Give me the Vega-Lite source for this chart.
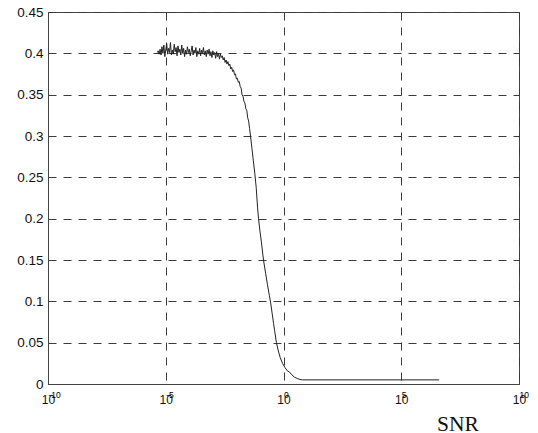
{
  "$schema": "https://vega.github.io/schema/vega-lite/v6.json",
  "width": 471,
  "height": 372,
  "autosize": "none",
  "padding": {"left": 48, "top": 12, "right": 19, "bottom": 49},
  "background": "white",
  "config": {
    "view": {"stroke": "#444", "strokeWidth": 1},
    "font": "Liberation Sans",
    "axis": {
      "labelFont": "Liberation Sans",
      "labelColor": "#111",
      "labelOverlap": false,
      "labelFlush": false,
      "domainColor": "#444",
      "gridColor": "#3a3a3a",
      "gridOpacity": 1,
      "gridDash": [8, 7],
      "gridWidth": 1,
      "ticks": false,
      "tickSize": 0
    }
  },
  "data": {
    "values": [
      {"snr": 4.365e-6, "p": 0.401},
      {"snr": 4.786e-6, "p": 0.403},
      {"snr": 5.248e-6, "p": 0.399},
      {"snr": 5.754e-6, "p": 0.405},
      {"snr": 6.310e-6, "p": 0.398},
      {"snr": 6.918e-6, "p": 0.408},
      {"snr": 7.586e-6, "p": 0.400},
      {"snr": 8.318e-6, "p": 0.410},
      {"snr": 9.120e-6, "p": 0.396},
      {"snr": 1.000e-5, "p": 0.404},
      {"snr": 1.096e-5, "p": 0.412},
      {"snr": 1.202e-5, "p": 0.399},
      {"snr": 1.318e-5, "p": 0.406},
      {"snr": 1.445e-5, "p": 0.401},
      {"snr": 1.585e-5, "p": 0.413},
      {"snr": 1.738e-5, "p": 0.398},
      {"snr": 1.905e-5, "p": 0.404},
      {"snr": 2.089e-5, "p": 0.399},
      {"snr": 2.291e-5, "p": 0.411},
      {"snr": 2.512e-5, "p": 0.402},
      {"snr": 2.754e-5, "p": 0.407},
      {"snr": 3.020e-5, "p": 0.397},
      {"snr": 3.311e-5, "p": 0.409},
      {"snr": 3.631e-5, "p": 0.401},
      {"snr": 3.981e-5, "p": 0.405},
      {"snr": 4.365e-5, "p": 0.398},
      {"snr": 4.786e-5, "p": 0.410},
      {"snr": 5.248e-5, "p": 0.400},
      {"snr": 5.754e-5, "p": 0.406},
      {"snr": 6.310e-5, "p": 0.396},
      {"snr": 6.918e-5, "p": 0.404},
      {"snr": 7.586e-5, "p": 0.399},
      {"snr": 8.318e-5, "p": 0.408},
      {"snr": 9.120e-5, "p": 0.401},
      {"snr": 1.000e-4, "p": 0.405},
      {"snr": 1.096e-4, "p": 0.397},
      {"snr": 1.202e-4, "p": 0.403},
      {"snr": 1.318e-4, "p": 0.409},
      {"snr": 1.445e-4, "p": 0.398},
      {"snr": 1.585e-4, "p": 0.404},
      {"snr": 1.738e-4, "p": 0.400},
      {"snr": 1.905e-4, "p": 0.407},
      {"snr": 2.089e-4, "p": 0.396},
      {"snr": 2.291e-4, "p": 0.403},
      {"snr": 2.512e-4, "p": 0.399},
      {"snr": 2.754e-4, "p": 0.406},
      {"snr": 3.020e-4, "p": 0.397},
      {"snr": 3.311e-4, "p": 0.404},
      {"snr": 3.631e-4, "p": 0.400},
      {"snr": 3.981e-4, "p": 0.407},
      {"snr": 4.365e-4, "p": 0.398},
      {"snr": 4.786e-4, "p": 0.403},
      {"snr": 5.248e-4, "p": 0.396},
      {"snr": 5.754e-4, "p": 0.404},
      {"snr": 6.310e-4, "p": 0.399},
      {"snr": 6.918e-4, "p": 0.405},
      {"snr": 7.586e-4, "p": 0.397},
      {"snr": 8.318e-4, "p": 0.402},
      {"snr": 9.120e-4, "p": 0.395},
      {"snr": 1.000e-3, "p": 0.403},
      {"snr": 1.096e-3, "p": 0.398},
      {"snr": 1.202e-3, "p": 0.401},
      {"snr": 1.318e-3, "p": 0.394},
      {"snr": 1.445e-3, "p": 0.402},
      {"snr": 1.585e-3, "p": 0.396},
      {"snr": 1.738e-3, "p": 0.400},
      {"snr": 1.905e-3, "p": 0.393},
      {"snr": 2.089e-3, "p": 0.399},
      {"snr": 2.291e-3, "p": 0.395},
      {"snr": 2.512e-3, "p": 0.397},
      {"snr": 2.754e-3, "p": 0.392},
      {"snr": 3.020e-3, "p": 0.395},
      {"snr": 3.311e-3, "p": 0.389},
      {"snr": 3.631e-3, "p": 0.392},
      {"snr": 3.981e-3, "p": 0.387},
      {"snr": 4.365e-3, "p": 0.390},
      {"snr": 4.786e-3, "p": 0.385},
      {"snr": 5.248e-3, "p": 0.387},
      {"snr": 5.754e-3, "p": 0.381},
      {"snr": 6.310e-3, "p": 0.383},
      {"snr": 6.918e-3, "p": 0.378},
      {"snr": 7.586e-3, "p": 0.380},
      {"snr": 8.318e-3, "p": 0.374},
      {"snr": 9.120e-3, "p": 0.375},
      {"snr": 1.000e-2, "p": 0.369},
      {"snr": 1.096e-2, "p": 0.370},
      {"snr": 1.202e-2, "p": 0.365},
      {"snr": 1.318e-2, "p": 0.366},
      {"snr": 1.445e-2, "p": 0.360},
      {"snr": 1.585e-2, "p": 0.358},
      {"snr": 1.738e-2, "p": 0.350},
      {"snr": 1.905e-2, "p": 0.348},
      {"snr": 2.089e-2, "p": 0.342},
      {"snr": 2.291e-2, "p": 0.340},
      {"snr": 2.512e-2, "p": 0.333},
      {"snr": 2.754e-2, "p": 0.331},
      {"snr": 3.020e-2, "p": 0.322},
      {"snr": 3.311e-2, "p": 0.318},
      {"snr": 3.631e-2, "p": 0.309},
      {"snr": 3.981e-2, "p": 0.300},
      {"snr": 4.571e-2, "p": 0.285},
      {"snr": 5.248e-2, "p": 0.270},
      {"snr": 6.026e-2, "p": 0.255},
      {"snr": 6.918e-2, "p": 0.238},
      {"snr": 7.943e-2, "p": 0.213},
      {"snr": 8.710e-2, "p": 0.200},
      {"snr": 0.1000, "p": 0.185},
      {"snr": 0.1148, "p": 0.172},
      {"snr": 0.1413, "p": 0.150},
      {"snr": 0.1738, "p": 0.134},
      {"snr": 0.2089, "p": 0.120},
      {"snr": 0.2512, "p": 0.107},
      {"snr": 0.2818, "p": 0.099},
      {"snr": 0.3311, "p": 0.085},
      {"snr": 0.3802, "p": 0.073},
      {"snr": 0.4169, "p": 0.065},
      {"snr": 0.5012, "p": 0.050},
      {"snr": 0.6026, "p": 0.040},
      {"snr": 0.7244, "p": 0.032},
      {"snr": 0.9120, "p": 0.025},
      {"snr": 1.148, "p": 0.020},
      {"snr": 1.445, "p": 0.016},
      {"snr": 1.778, "p": 0.0145},
      {"snr": 2.291, "p": 0.011},
      {"snr": 3.020, "p": 0.008},
      {"snr": 3.981, "p": 0.0065},
      {"snr": 5.012, "p": 0.0055},
      {"snr": 6.457, "p": 0.005},
      {"snr": 4.074e6, "p": 0.005}
    ]
  },
  "encoding": {
    "y": {
      "field": "p",
      "type": "quantitative",
      "scale": {"domain": [0, 0.45], "nice": false, "zero": true},
      "axis": {
        "values": [0, 0.05, 0.1, 0.15, 0.2, 0.25, 0.3, 0.35, 0.4, 0.45],
        "format": ".2~f",
        "grid": true,
        "labelFontSize": 13.5,
        "labelPadding": 5,
        "title": null
      }
    }
  },
  "layer": [
    {
      "mark": {"type": "line", "color": "#222", "strokeWidth": 1},
      "encoding": {
        "x": {
          "field": "snr",
          "type": "quantitative",
          "scale": {"type": "log", "domain": [1e-10, 1e10], "nice": false},
          "axis": {
            "orient": "bottom",
            "values": [1e-10, 1e-5, 1, 1e5, 1e10],
            "labelExpr": "'10'",
            "grid": true,
            "labelFontSize": 12,
            "labelAlign": "center",
            "labelDx": -3.5,
            "labelBaseline": "alphabetic",
            "labelPadding": 19.5,
            "title": "SNR",
            "titleFont": "Liberation Serif",
            "titleFontSize": 21.5,
            "titleFontWeight": "normal",
            "titleColor": "#111",
            "titleX": 409.5,
            "titleY": 46,
            "titleAlign": "center",
            "titleBaseline": "alphabetic"
          }
        }
      }
    },
    {
      "mark": {"type": "line", "strokeOpacity": 0},
      "encoding": {
        "x": {
          "field": "snr",
          "type": "quantitative",
          "scale": {"type": "log", "domain": [1e-10, 1e10], "nice": false},
          "axis": {
            "orient": "top",
            "offset": -390,
            "domain": false,
            "grid": false,
            "values": [1e-10, 1e-5, 1, 1e5, 1e10],
            "labelExpr": "'' + round(log(datum.value) / LN10)",
            "labelFontSize": 8.5,
            "labelColor": "#000",
            "labelAlign": "left",
            "labelDx": 3.5,
            "labelBaseline": "alphabetic",
            "labelPadding": 5,
            "title": null
          }
        }
      }
    }
  ],
  "resolve": {"scale": {"x": "independent"}}
}
